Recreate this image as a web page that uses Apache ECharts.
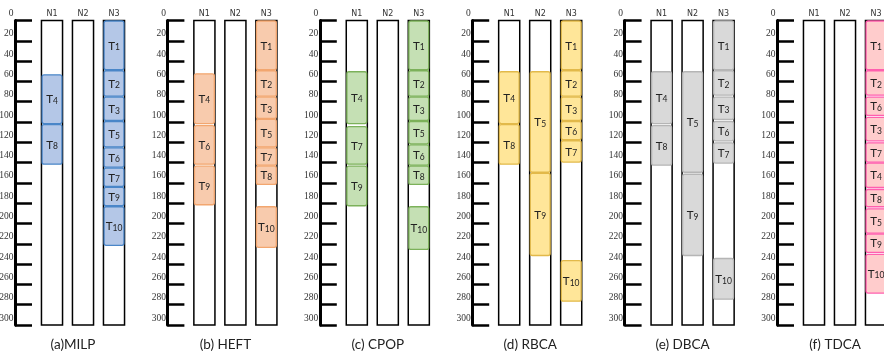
<!DOCTYPE html>
<html><head><meta charset="utf-8">
<script src="https://cdn.jsdelivr.net/npm/echarts@6/dist/echarts.min.js"></script>
<style>html,body{margin:0;padding:0;background:#fff}#c{width:884px;height:357px}</style>
</head><body><div id="c"></div>
<script>
// Data: [node, task, start, end]
const nodes = ['N1', 'N2', 'N3'];
const yTicks = [0, 20, 40, 60, 80, 100, 120, 140, 160, 180, 200, 220, 240, 260, 280, 300];
const titles = ['(a)MILP', '(b) HEFT', '(c) CPOP', '(d) RBCA', '(e) DBCA', '(f) TDCA'];
const MILP = [
  ['N1', 4, 53, 102], ['N1', 8, 102, 142],
  ['N3', 1, 0, 49], ['N3', 2, 49, 75], ['N3', 3, 75, 99], ['N3', 5, 99, 125],
  ['N3', 6, 125, 145], ['N3', 7, 145, 164], ['N3', 9, 164, 183], ['N3', 10, 183, 222]
];
const HEFT = [
  ['N1', 4, 52, 102], ['N1', 6, 103, 142], ['N1', 9, 143, 182],
  ['N3', 1, 0, 49], ['N3', 2, 49, 75], ['N3', 3, 75, 97], ['N3', 5, 97, 125],
  ['N3', 7, 125, 143], ['N3', 8, 143, 162], ['N3', 10, 183, 224]
];
const CPOP = [
  ['N1', 4, 50, 102], ['N1', 7, 104, 142], ['N1', 9, 143, 183],
  ['N3', 1, 0, 49], ['N3', 2, 49, 75], ['N3', 3, 75, 99], ['N3', 5, 99, 122],
  ['N3', 6, 122, 143], ['N3', 8, 143, 162], ['N3', 10, 183, 226]
];
const RBCA = [
  ['N1', 4, 50, 102], ['N1', 8, 102, 142],
  ['N2', 5, 50, 150], ['N2', 9, 150, 232],
  ['N3', 1, 0, 49], ['N3', 2, 49, 75], ['N3', 3, 75, 99], ['N3', 6, 99, 118],
  ['N3', 7, 118, 140], ['N3', 10, 236, 277]
];
const DBCA = [
  ['N1', 4, 50, 102], ['N1', 8, 103, 143],
  ['N2', 5, 50, 150], ['N2', 9, 151, 232],
  ['N3', 1, 0, 49], ['N3', 2, 49, 74], ['N3', 3, 75, 98], ['N3', 6, 99, 119],
  ['N3', 7, 120, 141], ['N3', 10, 234, 275]
];
const TDCA = [
  ['N3', 1, 0, 49], ['N3', 2, 49, 74], ['N3', 6, 75, 94], ['N3', 3, 95, 119],
  ['N3', 7, 120, 140], ['N3', 4, 140, 165], ['N3', 8, 166, 184], ['N3', 5, 185, 210],
  ['N3', 9, 210, 229], ['N3', 10, 230, 269]
];
const schedules = [MILP, HEFT, CPOP, RBCA, DBCA, TDCA];
const fills = ['#b4c7e7', '#f8cbad', '#c5e0b4', '#ffe699', '#d9d9d9', '#ffcccc'];
const strokes = ['#4a86c8', '#f2a66f', '#7cb15a', '#e2b94a', '#b5b5b5', '#ff5fae'];

const chart = echarts.init(document.getElementById('c'), null, {renderer: 'canvas'});
const grids = [], xAxes = [], yAxes = [], series = [], graphics = [];
const AX0 = 15, STEP = 152.4, OFF = 21.5;

schedules.forEach((sched, k) => {
  const ax = AX0 + STEP * k;
  grids.push({left: ax + OFF, top: 20.5, width: 93, bottom: 32, containLabel: false, outerBoundsMode: 'none'});
  xAxes.push({
    gridIndex: k, type: 'category', data: nodes, position: 'top',
    axisLine: {show: false}, axisTick: {show: false}, splitLine: {show: false},
    axisLabel: {fontSize: 8, color: '#333', margin: 3, fontFamily: 'DejaVu Sans'}
  });
  yAxes.push({
    gridIndex: k, type: 'value', min: 0, max: 300, interval: 20, inverse: true,
    position: 'left', offset: OFF,
    axisLine: {show: true, onZero: false, lineStyle: {color: '#000', width: 3}},
    axisTick: {show: true, inside: true, length: 17, lineStyle: {color: '#000', width: 2.5}},
    splitLine: {show: false},
    axisLabel: {
      fontSize: 9.5, color: '#333', fontFamily: 'Liberation Serif', margin: 1.5,
      verticalAlign: 'bottom', padding: [0, 0, 2, 0],
      showMinLabel: true, showMaxLabel: true, hideOverlap: false,
      customValues: yTicks,
      formatter: v => String(v)
    }
  });
  // node boxes
  series.push({
    type: 'custom', xAxisIndex: k, yAxisIndex: k, z: 1, silent: true,
    data: nodes.map((n, i) => [i, 0, 300]),
    renderItem: (params, api) => {
      const p0 = api.coord([api.value(0), api.value(1)]);
      const p1 = api.coord([api.value(0), api.value(2)]);
      const bw = api.size([1, 0])[0] * 0.68;
      return {type: 'rect', shape: {x: p0[0] - bw / 2, y: p0[1], width: bw, height: p1[1] - p0[1]},
        style: {fill: '#fff', stroke: '#000', lineWidth: 1.5}};
    }
  });
  // tasks
  series.push({
    type: 'custom', xAxisIndex: k, yAxisIndex: k, z: 2, silent: true,
    data: sched.map(t => [nodes.indexOf(t[0]), t[2], t[3], t[1]]),
    renderItem: (params, api) => {
      const p0 = api.coord([api.value(0), api.value(1)]);
      const p1 = api.coord([api.value(0), api.value(2)]);
      const bw = api.size([1, 0])[0] * 0.64;
      const h = p1[1] - p0[1];
      return {type: 'group', children: [
        {type: 'rect', shape: {x: p0[0] - bw / 2, y: p0[1] + 0.5, width: bw, height: h - 1, r: 2},
          style: {fill: fills[k], stroke: strokes[k], lineWidth: 1.3}},
        {type: 'text', x: p0[0], y: p0[1] + h / 2,
          style: {text: '{t|T}{s|' + api.value(3) + '}', align: 'center', verticalAlign: 'middle',
            rich: {
              t: {fontSize: 11.5, fontFamily: 'Lato', fill: '#222', lineHeight: 13, verticalAlign: 'bottom'},
              s: {fontSize: 8.5, fontFamily: 'Lato', fill: '#222', lineHeight: 8, verticalAlign: 'bottom'}
            }}}
      ]};
    }
  });
  graphics.push({type: 'text', x: ax + 58, y: 345,
    style: {text: titles[k], fontSize: 13.5, fontFamily: 'Lato', fill: '#222', align: 'center', verticalAlign: 'middle'}});
});

chart.setOption({
  animation: false,
  grid: grids, xAxis: xAxes, yAxis: yAxes, series: series, graphic: graphics
});
</script></body></html>
